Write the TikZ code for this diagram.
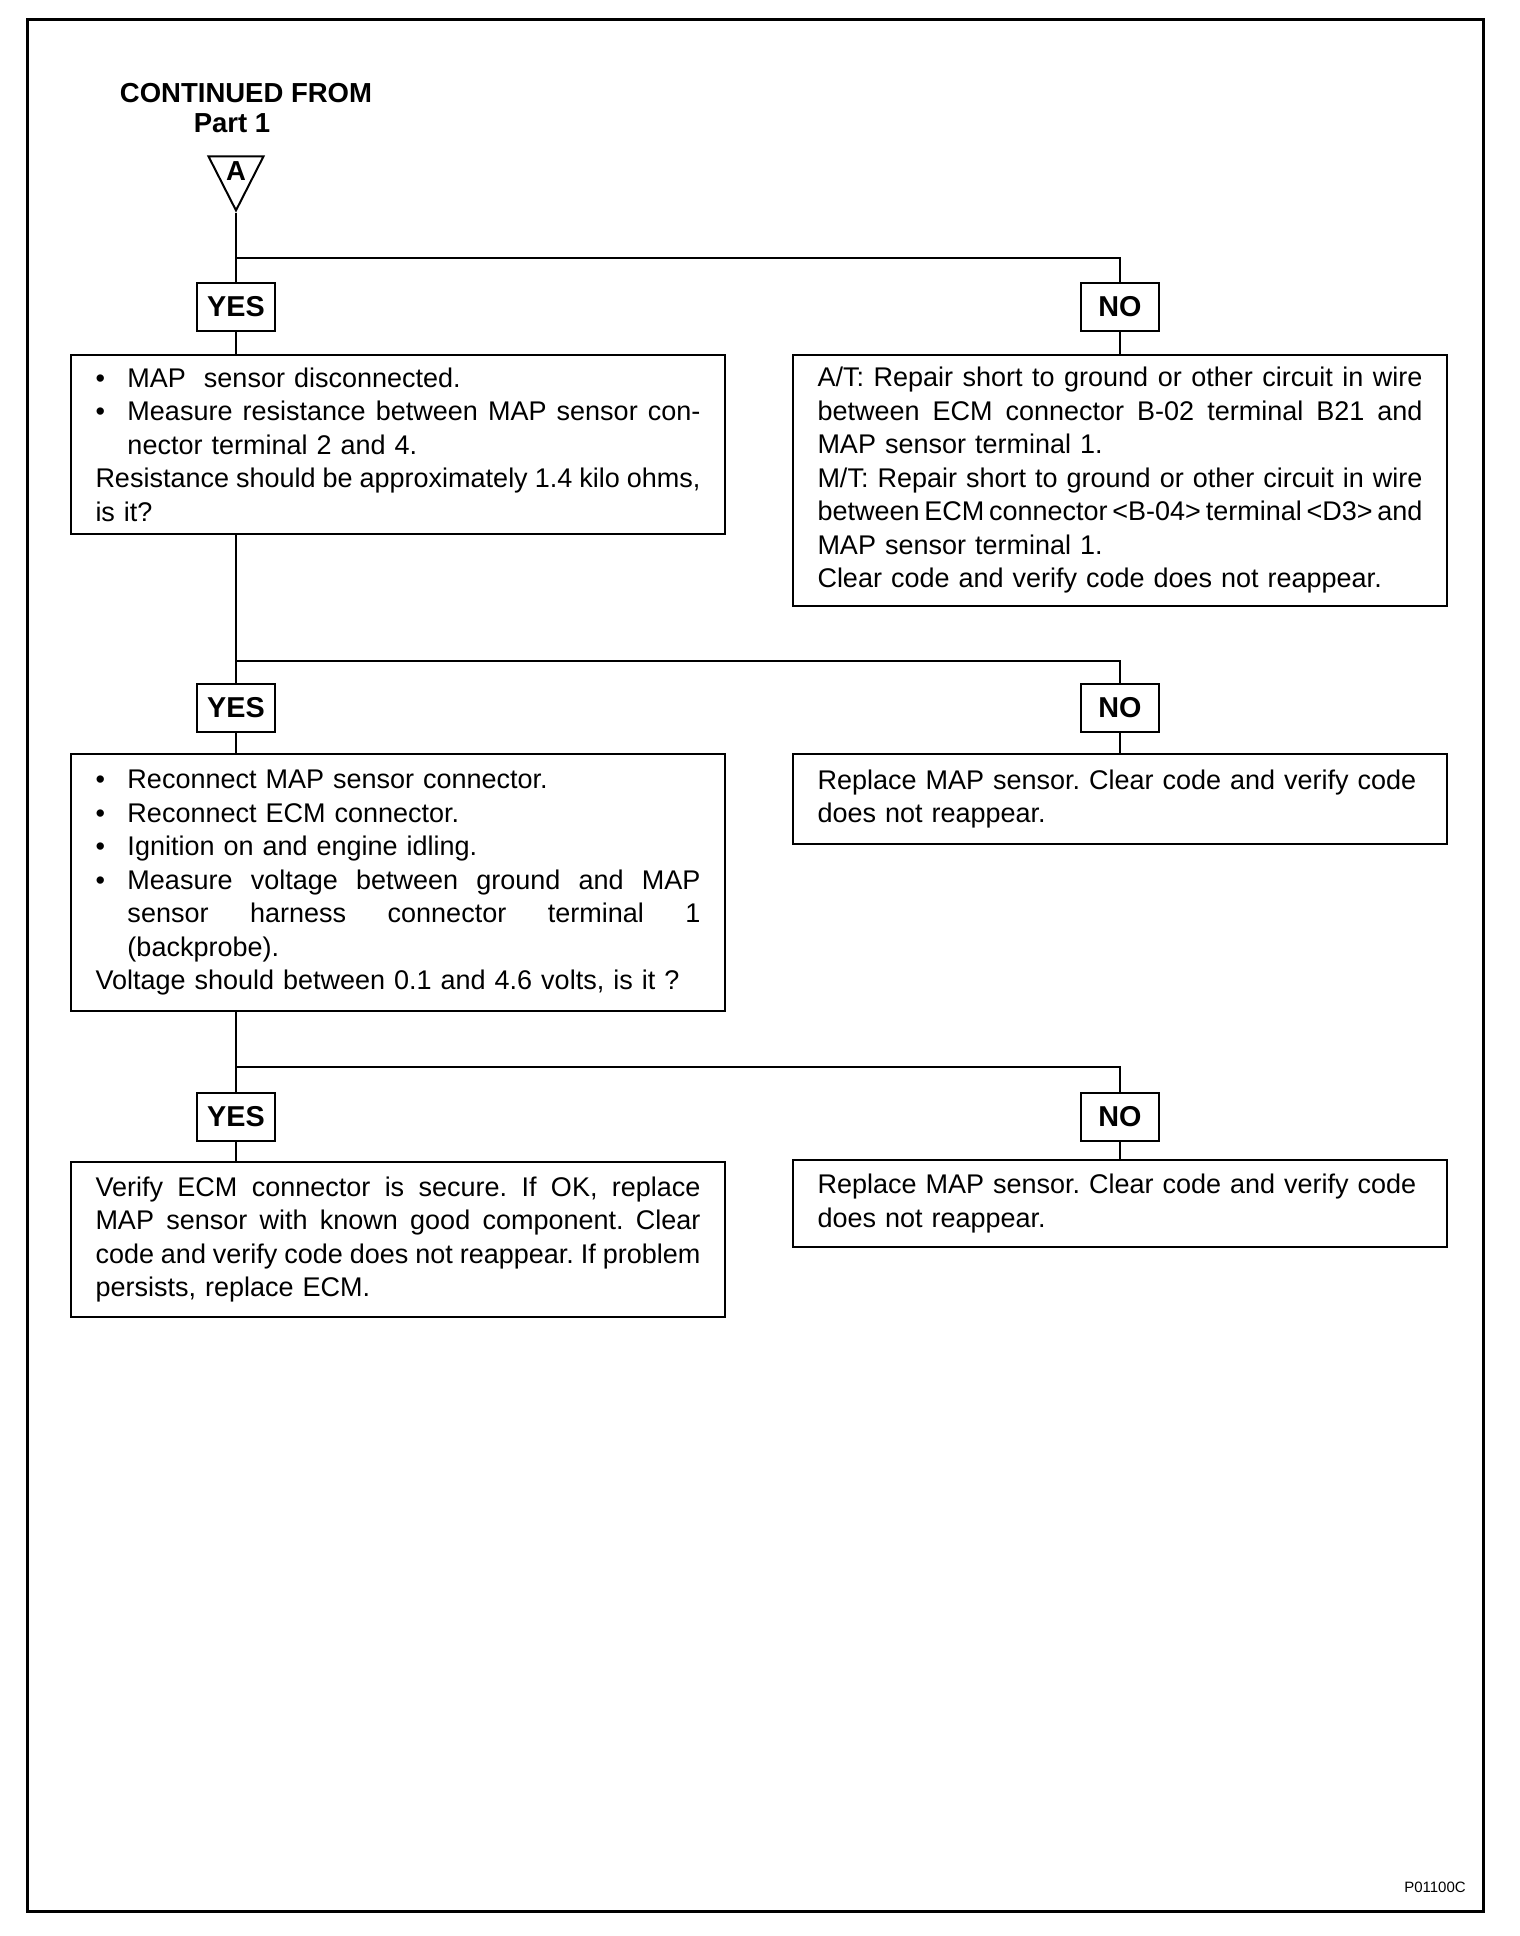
\documentclass[tikz,border=0pt]{standalone}
\usepackage{fontspec}
\setmainfont{Liberation Sans}
\usetikzlibrary{shapes.geometric, positioning, calc}
\frenchspacing

% bullet, hanging indent and full-width (spread) line
\newcommand{\bul}{\makebox[12.8pt][l]{\textbullet}}
\newcommand{\ind}{\hspace*{12.8pt}}
\newcommand{\fl}[1]{{\spaceskip=\fontdimen2\font plus 1fil minus 1.5pt
  \makebox[\linewidth][s]{#1}}}

\begin{document}
\begin{tikzpicture}[
  % pixel grid of the sheet: x to the right, y downwards
  x=0.4pt, y=-0.4pt,
  frame/.style={draw=black, line width=1.2pt},
  link/.style={draw=black, line width=0.8pt},
  % text box; height supplied per node as box=<height>
  box/.style={
    rectangle, draw=black, line width=0.8pt,
    anchor=north west,
    text width=242pt, align=left,
    inner xsep=9.8pt, inner ysep=3pt,
    minimum height=#1,
    font=\fontsize{10.8pt}{13.4pt}\selectfont
  },
  answer/.style={
    rectangle, draw=black, line width=0.8pt,
    minimum width=31pt, minimum height=19pt, inner sep=1pt,
    font=\fontsize{11.5pt}{13pt}\selectfont\bfseries
  },
  heading/.style={inner sep=0pt, font=\fontsize{11pt}{13pt}\selectfont\bfseries},
]
\useasboundingbox (0,0) rectangle (1520,1936);
\draw[frame] (27,19) rectangle (1483,1911);

%% ── Entry point ─────────────────────────────────────────────────────────
\node[heading] (cont) at (246,93) {CONTINUED FROM};
\node[heading] (part) at (232,123) {Part 1};
\node[isosceles triangle, isosceles triangle stretches,
      shape border rotate=-90, draw, line width=0.8pt,
      minimum width=22pt, minimum height=21.6pt, inner sep=0pt,
      anchor=apex, font=\fontsize{11pt}{13pt}\selectfont\bfseries]
      (conA) at (236,213) {A};

%% ── Step 1 ──────────────────────────────────────────────────────────────
\coordinate (split1) at (236,258);
\node[answer] (yes1) at (236,307) {YES};
\node[answer] (no1)  at (1120,307) {NO};

\node[box=71.6pt] (res) at (70,354) {
  \bul MAP~ sensor disconnected.\\
  \fl{\bul Measure resistance between MAP sensor con-}\\
  \ind nector terminal 2 and 4.\\
  \fl{Resistance should be approximately 1.4 kilo ohms,}\\
  is it?
};

\node[box=100.4pt] (wire) at (792,354) {
  \fl{A/T: Repair short to ground or other circuit in wire}\\
  \fl{between ECM connector B-02 terminal B21 and}\\
  MAP sensor terminal 1.\\
  \fl{M/T: Repair short to ground or other circuit in wire}\\
  \fl{between ECM connector <B-04> terminal <D3> and}\\
  MAP sensor terminal 1.\\
  Clear code and verify code does not reappear.
};

%% ── Step 2 ──────────────────────────────────────────────────────────────
\coordinate (split2) at (236,661);
\node[answer] (yes2) at (236,708) {YES};
\node[answer] (no2)  at (1120,708) {NO};

\node[box=102.8pt] (volt) at (70,753) {
  \bul Reconnect MAP sensor connector.\\
  \bul Reconnect ECM connector.\\
  \bul Ignition on and engine idling.\\
  \fl{\bul Measure voltage between ground and MAP}\\
  \fl{\ind sensor harness connector terminal 1}\\
  \ind (backprobe).\\
  Voltage should between 0.1 and 4.6 volts, is it ?
};

\node[box=36pt] (repl1) at (792,753) {
  Replace MAP sensor. Clear code and verify code\\
  does not reappear.
};

%% ── Step 3 ──────────────────────────────────────────────────────────────
\coordinate (split3) at (236,1067);
\node[answer] (yes3) at (236,1117) {YES};
\node[answer] (no3)  at (1120,1117) {NO};

\node[box=62pt] (ecm) at (70,1161) {
  \fl{Verify ECM connector is secure. If OK, replace}\\
  \fl{MAP sensor with known good component. Clear}\\
  \fl{code and verify code does not reappear. If problem}\\
  persists, replace ECM.
};

\node[box=34.8pt] (repl2) at (792,1159) {
  Replace MAP sensor. Clear code and verify code\\
  does not reappear.
};

\node[inner sep=0pt, font=\fontsize{6pt}{7pt}\selectfont] (fig) at (1435,1887) {P01100C};

%% ── Connectors ──────────────────────────────────────────────────────────
\draw[link] (conA.apex) -- (yes1);
\draw[link] (split1) -| (no1);
\draw[link] (yes1) -- (yes1 |- res.north);
\draw[link] (no1)  -- (no1 |- wire.north);

\draw[link] (yes2 |- res.south) -- (yes2);
\draw[link] (split2) -| (no2);
\draw[link] (yes2) -- (yes2 |- volt.north);
\draw[link] (no2)  -- (no2 |- repl1.north);

\draw[link] (yes3 |- volt.south) -- (yes3);
\draw[link] (split3) -| (no3);
\draw[link] (yes3) -- (yes3 |- ecm.north);
\draw[link] (no3)  -- (no3 |- repl2.north);

\end{tikzpicture}
\end{document}
